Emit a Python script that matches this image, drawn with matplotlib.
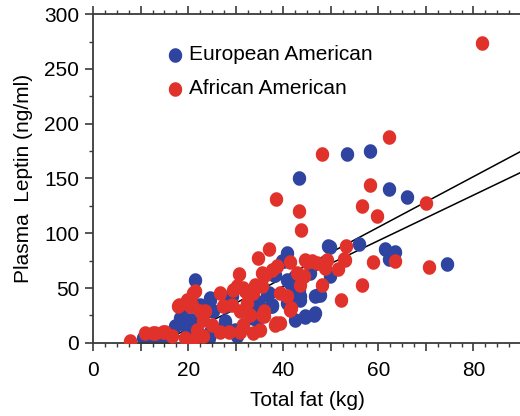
import numpy as np
import matplotlib
matplotlib.use("Agg")
import matplotlib.pyplot as plt
from matplotlib.ticker import MultipleLocator, FuncFormatter
from matplotlib.path import Path

plt.rcParams["font.family"] = ["Liberation Sans", "DejaVu Sans"]

# total fat (kg) vs plasma leptin (ng/ml)
ea_fat = [10.6, 11.6, 12.5, 14.5, 13.5, 16.0, 17.3, 18.3, 18.7, 19.7, 21.1, 20.4,
          21.5, 22.5, 24.6, 24.3, 24.6, 25.3, 27.8, 27.8, 29.2, 30.2, 31.6, 33.7,
          34.5, 36.9, 37.6, 37.5, 38.3, 39.7, 40.8, 40.1, 41.5, 40.8, 41.1, 42.5,
          43.6, 43.2, 44.5, 46.4, 46.7, 46.7, 47.7, 49.9, 49.8, 56.0, 61.3, 63.4,
          62.2, 74.5, 66.0, 62.3, 58.2, 53.5, 43.2, 34.1, 28.8, 24.6, 27.8, 33.7,
          34.8, 37.6, 36.6, 40.8, 38.0, 42.5, 43.6, 41.5, 47.4, 44.6, 29.9, 25.0,
          23.9, 33.7, 45.7, 49.5, 42.5]
ea_leptin = [4.3, 0.5, 3.0, 1.2, 6.0, 3.0, 14.9, 22.6, 24.0, 13.5, 21.0, 21.0,
             57.6, 34.8, 39.3, 4.3, 10.3, 28.6, 19.5, 18.0, 42.4, 5.8, 16.5, 33.2,
             21.0, 45.4, 33.2, 33.9, 62.2, 74.4, 82.0, 74.4, 54.6, 36.3, 36.9, 20.4,
             39.3, 48.5, 23.5, 25.6, 27.0, 42.4, 43.9, 60.7, 87.2, 90.6, 85.7, 82.6,
             76.6, 72.0, 133.0, 140.3, 174.7, 172.0, 150.0, 39.3, 42.4, 40.9, 33.2, 31.7,
             34.8, 34.8, 43.9, 57.6, 62.2, 48.5, 42.4, 37.8, 43.9, 24.0, 11.9, 10.3,
             2.7, 22.6, 63.8, 88.0, 60.7]

aa_fat = [7.8, 10.9, 12.7, 13.1, 15.2, 14.7, 16.6, 17.8, 18.0, 19.7, 20.4, 20.8,
          21.1, 21.5, 19.4, 22.2, 21.1, 21.8, 23.2, 23.6, 22.5, 23.2, 25.0, 26.7,
          26.7, 27.4, 28.5, 29.2, 29.5, 30.2, 30.6, 30.9, 30.9, 31.6, 31.6, 32.0,
          32.4, 33.0, 33.7, 33.7, 34.1, 34.7, 35.2, 35.5, 35.5, 35.5, 35.9, 35.9,
          36.1, 36.9, 37.6, 38.3, 38.5, 38.7, 39.4, 39.4, 40.8, 41.5, 41.5, 41.7,
          42.9, 43.6, 44.3, 44.6, 45.0, 46.0, 47.1, 48.1, 48.8, 49.2, 51.6, 52.2,
          52.7, 52.9, 53.2, 56.6, 58.9, 59.7, 56.6, 63.4, 70.7, 70.0, 58.2, 62.2,
          48.1, 38.5, 43.2, 43.8, 81.8]
aa_leptin = [1.2, 8.8, 8.8, 8.8, 10.3, 10.3, 5.8, 33.9, 34.8, 39.3, 33.2, 34.8,
             45.5, 47.0, 4.3, 7.3, 2.7, 11.9, 21.0, 28.6, 28.6, 5.8, 16.5, 45.5,
             10.3, 33.2, 10.3, 34.8, 48.5, 51.5, 62.8, 28.6, 10.3, 50.0, 16.5, 46.9,
             36.3, 25.6, 8.8, 45.5, 53.0, 77.5, 11.9, 51.5, 63.8, 25.6, 24.0, 28.6,
             62.2, 85.7, 66.8, 16.5, 18.0, 69.8, 45.5, 18.3, 42.4, 73.5, 30.2, 31.7,
             63.7, 53.0, 60.7, 75.9, 73.5, 74.4, 72.9, 53.0, 68.3, 75.9, 67.4, 39.3,
             76.6, 75.9, 88.7, 53.0, 73.5, 115.6, 124.7, 74.4, 68.9, 127.8, 143.9, 187.8,
             172.0, 131.7, 120.1, 102.8, 274.0]

# fitted lines: slope, intercept
ea_fit = (2.31, -33.1)
aa_fit = (2.08, -31.6)
fit_range = [15, 90]

blue = "#2f43a0"
red = "#e0322a"
fs = 15

# slightly tall ellipse marker
t = np.linspace(0, 2 * np.pi, 40)
ell = Path(np.column_stack([0.92 * np.cos(t), np.sin(t)]))

fig = plt.figure(figsize=(5.2, 4.16), dpi=100)
ax = fig.add_axes([0.179, 0.176, 0.823, 0.79])

xs = np.array(fit_range)
for slope, icpt in (ea_fit, aa_fit):
    ax.plot(xs, slope * xs + icpt, color="black", lw=1.1, zorder=1)

ax.scatter(ea_fat, ea_leptin, s=110, marker=ell, color=blue, linewidths=0,
           zorder=2, label="European American")
ax.scatter(aa_fat, aa_leptin, s=110, marker=ell, color=red, linewidths=0,
           zorder=3, label="African American")

ax.set_xlim(0, 90)
ax.set_ylim(0, 300)
ax.xaxis.set_major_locator(MultipleLocator(10))
ax.xaxis.set_minor_locator(MultipleLocator(2.5))
ax.xaxis.set_major_formatter(FuncFormatter(lambda v, p: f"{v:.0f}" if v % 20 == 0 else ""))
ax.yaxis.set_major_locator(MultipleLocator(50))
ax.yaxis.set_minor_locator(MultipleLocator(25))

spine_c = "#3a3a3a"
for s in ("left", "bottom", "top"):
    ax.spines[s].set_color(spine_c)
    ax.spines[s].set_linewidth(1.3)
ax.spines["right"].set_visible(False)
ax.tick_params(which="both", top=True, labeltop=False, direction="out",
               color=spine_c, labelsize=fs)
ax.tick_params(which="major", length=6, width=1.2)
ax.tick_params(which="minor", length=3, width=1.0)
ax.tick_params(axis="x", which="major", pad=7)
ax.tick_params(axis="y", which="major", pad=4)

ax.set_xlabel("Total fat (kg)", fontsize=fs, labelpad=8)
ax.set_ylabel("Plasma  Leptin (ng/ml)", fontsize=fs, labelpad=8)

ax.legend(loc="upper left", bbox_to_anchor=(0.143, 0.93), frameon=False,
          fontsize=fs, handletextpad=0.05, labelspacing=0.72,
          borderaxespad=0, handlelength=1.2)

fig.savefig("out.png", dpi=100)
